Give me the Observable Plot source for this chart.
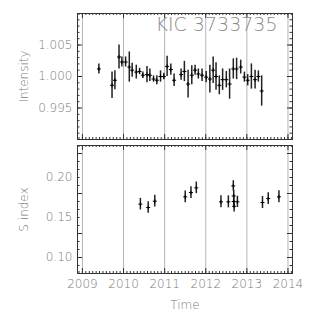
<!DOCTYPE html>
<html><head><meta charset="utf-8">
<script src="https://cdn.jsdelivr.net/npm/d3@7"></script>
<script src="https://cdn.jsdelivr.net/npm/@observablehq/plot@0.6"></script>
<style>
html,body{margin:0;padding:0;background:#fff;}
#wrap{position:relative;width:316px;height:316px;overflow:hidden;}
#wrap svg{position:absolute;left:0;font-family:"DejaVu Sans","DejaVu Sans ExtraLight",sans-serif;font-weight:200;}
</style></head>
<body><div id="wrap"></div>
<script>
// ---- data ----
const title = "KIC 3733735";
const yearTicks = [2009, 2010, 2011, 2012, 2013, 2014];
const intensityTicks = [0.995, 1.000, 1.005];
const sIndexTicks = [0.10, 0.15, 0.20];

const iTime = [2009.40, 2009.72, 2009.79, 2009.89, 2009.96, 2010.05, 2010.14, 2010.21, 2010.31, 2010.39,
  2010.47, 2010.57, 2010.64, 2010.73, 2010.81, 2010.90, 2010.98, 2011.06, 2011.15, 2011.23,
  2011.40, 2011.48, 2011.57, 2011.66, 2011.74, 2011.82, 2011.91, 2012.01, 2012.10, 2012.18,
  2012.25, 2012.33, 2012.41, 2012.50, 2012.58, 2012.67, 2012.75, 2012.85, 2012.94, 2013.02,
  2013.11, 2013.20, 2013.28, 2013.36];
const iVal = [1.0012, 0.9986, 0.9994, 1.0031, 1.0023, 1.0023, 1.0015, 1.0010, 1.0007, 1.0008,
  1.0002, 1.0003, 1.0002, 0.9996, 0.9994, 1.0000, 1.0000, 1.0016, 1.0011, 0.9994,
  1.0003, 1.0008, 0.9988, 1.0002, 1.0010, 1.0004, 1.0002, 0.9999, 0.9996, 1.0010,
  1.0000, 0.9986, 0.9995, 0.9995, 0.9988, 1.0012, 1.0012, 1.0015, 0.9999, 0.9994,
  1.0000, 0.9995, 1.0000, 0.9977];
const iErr = [0.0008, 0.0021, 0.0015, 0.0019, 0.0008, 0.0008, 0.0024, 0.0011, 0.0011, 0.0005,
  0.0005, 0.0013, 0.0010, 0.0005, 0.0007, 0.0009, 0.0005, 0.0016, 0.0009, 0.0010,
  0.0009, 0.0016, 0.0022, 0.0015, 0.0008, 0.0008, 0.0010, 0.0009, 0.0022, 0.0021,
  0.0022, 0.0015, 0.0017, 0.0013, 0.0024, 0.0016, 0.0017, 0.0011, 0.0008, 0.0009,
  0.0020, 0.0015, 0.0009, 0.0024];

const sTime = [2010.41, 2010.60, 2010.76, 2011.50, 2011.64, 2011.77, 2012.37, 2012.55,
  2012.67, 2012.68, 2012.68, 2012.69, 2012.77, 2013.38, 2013.52, 2013.78];
const sVal = [0.1667, 0.1625, 0.1704, 0.1758, 0.1812, 0.1871, 0.1696, 0.1696,
  0.1895, 0.1770, 0.1700, 0.1640, 0.1696, 0.1687, 0.1737, 0.1758];
const sErr = [0.0073, 0.0073, 0.0073, 0.0073, 0.0073, 0.0073, 0.0075, 0.0075,
  0.0065, 0.0070, 0.0070, 0.0070, 0.0070, 0.0075, 0.0073, 0.0075];

// ---- layout ----
const W = 316, ML = 77, MR = 24;
const FW = W - ML - MR;
const xDomain = [2008.88, 2014.11];
const monthTicks = d3.range(2008 + 11/12, 2014.1, 1/12);
const gray = "#7a7a7a", frameCol = "#333";

function tickMarks(yMajor, yMinor, FH) {
  return [
    Plot.tickY(yMajor, {y: d => d, insetRight: FW - 5, stroke: frameCol}),
    Plot.tickY(yMajor, {y: d => d, insetLeft: FW - 5, stroke: frameCol}),
    Plot.tickY(yMinor, {y: d => d, insetRight: FW - 2.5, stroke: frameCol}),
    Plot.tickY(yMinor, {y: d => d, insetLeft: FW - 2.5, stroke: frameCol}),
    Plot.tickX(yearTicks, {x: d => d, insetTop: FH - 5, stroke: frameCol}),
    Plot.tickX(yearTicks, {x: d => d, insetBottom: FH - 5, stroke: frameCol}),
    Plot.tickX(monthTicks, {x: d => d, insetTop: FH - 2, stroke: frameCol}),
    Plot.tickX(monthTicks, {x: d => d, insetBottom: FH - 2, stroke: frameCol})
  ];
}

const idx = iTime.map((_, i) => i);
const sdx = sTime.map((_, i) => i);

const topH = 142, topMT = 13, topMB = 3;
const topFH = topH - topMT - topMB;
const topPlot = Plot.plot({
  width: W, height: topH, marginLeft: ML, marginRight: MR, marginTop: topMT, marginBottom: topMB,
  style: {fontSize: "12px", background: "transparent"},
  x: {domain: xDomain, axis: null},
  y: {domain: [0.990, 1.010], axis: null},
  marks: [
    Plot.ruleX(yearTicks, {x: d => d, stroke: "#b4b4b4", strokeWidth: 1}),
    Plot.frame({stroke: frameCol, strokeWidth: 1}),
    ...tickMarks(d3.range(0.990, 1.0101, 0.005), d3.range(0.990, 1.0101, 0.001), topFH),
    Plot.axisY({ticks: intensityTicks, tickSize: 0, tickPadding: 5, tickFormat: d3.format(".3f"),
      fill: gray, label: "Intensity", labelAnchor: "center", labelOffset: 58, labelArrow: "none"}),
    Plot.ruleX(idx, {x: i => iTime[i], y1: i => iVal[i] - iErr[i], y2: i => iVal[i] + iErr[i], stroke: "#222", strokeWidth: 1.5}),
    Plot.dot(idx, {x: i => iTime[i], y: i => iVal[i], symbol: "plus", r: 1.4, stroke: "#000", strokeWidth: 1}),
    Plot.text([title], {frameAnchor: "top-right", dx: -15, dy: 4, lineAnchor: "top", fontSize: 19, fill: "#8a8a8a", fontWeight: 200})
  ]
});

const botTop = 142, botH = 174, botMT = 3, botMB = 43;
const botFH = botH - botMT - botMB;
const botPlot = Plot.plot({
  width: W, height: botH, marginLeft: ML, marginRight: MR, marginTop: botMT, marginBottom: botMB,
  style: {fontSize: "12px", background: "transparent"},
  x: {domain: xDomain, axis: null},
  y: {domain: [0.08, 0.24], axis: null},
  marks: [
    Plot.ruleX(yearTicks, {x: d => d, stroke: "#b4b4b4", strokeWidth: 1}),
    Plot.frame({stroke: frameCol, strokeWidth: 1}),
    ...tickMarks(d3.range(0.08, 0.2401, 0.05).concat([0.10]), d3.range(0.08, 0.2401, 0.01), botFH),
    Plot.axisY({ticks: sIndexTicks, tickSize: 0, tickPadding: 5, tickFormat: d3.format(".2f"),
      fill: gray, label: "S index", labelAnchor: "center", labelOffset: 58, labelArrow: "none"}),
    Plot.axisX({ticks: yearTicks, tickSize: 0, tickPadding: 6, tickFormat: d3.format("d"),
      fill: gray, label: "Time", labelAnchor: "center", labelOffset: 35, labelArrow: "none"}),
    Plot.ruleX(sdx, {x: i => sTime[i], y1: i => sVal[i] - sErr[i], y2: i => sVal[i] + sErr[i], stroke: "#222", strokeWidth: 1.5}),
    Plot.dot(sdx, {x: i => sTime[i], y: i => sVal[i], symbol: "plus", r: 1.4, stroke: "#000", strokeWidth: 1})
  ]
});

const wrap = document.getElementById("wrap");
topPlot.style.top = "0px";
botPlot.style.top = botTop + "px";
wrap.appendChild(topPlot);
wrap.appendChild(botPlot);
</script>
</body></html>
